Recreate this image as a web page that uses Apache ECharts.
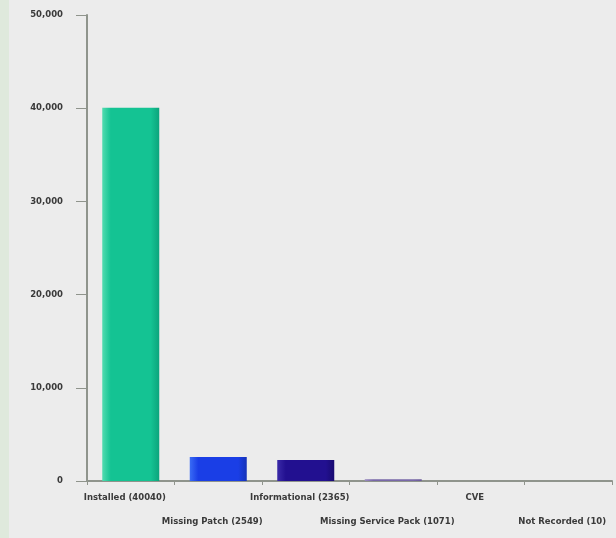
<!DOCTYPE html>
<html><head><meta charset="utf-8">
<script src="https://cdn.jsdelivr.net/npm/echarts@6/dist/echarts.min.js"></script>
<style>html,body{margin:0;padding:0;background:#ececec;}#c{width:616px;height:538px;}
#strip{position:absolute;left:0;top:0;width:9px;height:538px;background:#dfe9dc;}</style>
</head><body><div id="strip"></div><div id="c"></div>
<script>
const categories = ["Installed (40040)", "Missing Patch (2549)", "Informational (2365)", "Missing Service Pack (1071)", "CVE", "Not Recorded (10)"];
const values = [40040, 2570, 2260, 190, 0, 10];
const yTicks = [0, 10000, 20000, 30000, 40000, 50000];
const barColors = [
  ["#52dcb0", "#14c393", "#0ca47c"],
  ["#3a6cf5", "#1a3ee6", "#1432b8"],
  ["#3a2aa8", "#221090", "#180a70"],
  ["#9a8ac0", "#7868a8", "#6a5a98"],
  ["#888", "#888", "#888"],
  ["#888", "#888", "#888"]
];
const chart = echarts.init(document.getElementById('c'));
chart.setOption({
  backgroundColor: 'transparent',
  animation: false,
  grid: {left: 87, right: 4, top: 15, bottom: 57, containLabel: false, outerBoundsMode: 'none'},
  xAxis: {
    type: 'category', data: categories,
    axisLine: {lineStyle: {color: '#8f948c', width: 2}},
    axisTick: {show: true, length: 4, lineStyle: {color: '#8f948c'}},
    axisLabel: {interval: 0, fontSize: 8.5, lineHeight: 12, fontWeight: 'bold', color: '#3a3a3a', fontFamily: 'DejaVu Sans', margin: 11,
      padding: [0, 12, 0, 0], hideOverlap: false,
      formatter: (v, i) => (i % 2 === 1 ? '\n\n' + v : v)}
  },
  yAxis: {
    type: 'value', min: 0, max: 50000, interval: 10000,
    axisLine: {show: true, lineStyle: {color: '#8f948c', width: 2}},
    axisTick: {show: true, length: 11, lineStyle: {color: '#8f948c'}},
    splitLine: {show: false},
    axisLabel: {fontSize: 8.5, fontWeight: 'bold', color: '#3a3a3a', fontFamily: 'DejaVu Sans', margin: 24,
      formatter: v => yTicks.includes(v) ? v.toLocaleString('en-US') : ''}
  },
  series: [{
    type: 'bar', barWidth: 57,
    data: values.map((v, i) => ({value: v, itemStyle: {color: new echarts.graphic.LinearGradient(0, 0, 1, 0, [
      {offset: 0, color: barColors[i][0]}, {offset: 0.15, color: barColors[i][1]}, {offset: 0.85, color: barColors[i][1]}, {offset: 1, color: barColors[i][2]}])}}))
  }]
});
</script></body></html>
